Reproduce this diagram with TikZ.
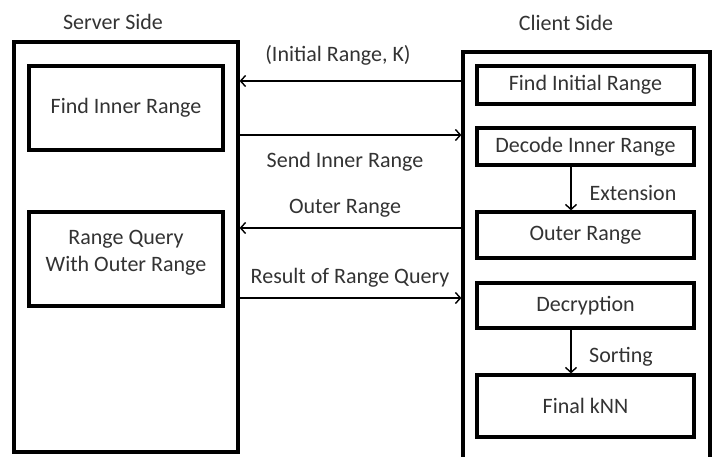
\documentclass[tikz,border=0pt]{standalone}
\usepackage{fontspec}
\setmainfont{Carlito}
\usetikzlibrary{arrows.meta}

\tikzset{
  sidebox/.style={draw, line width=3.2pt, inner sep=0pt},
  stepbox/.style={draw, line width=3.2pt, inner sep=0pt, align=center, text=black!80},
  flow/.style={line width=1.4pt, -{Straight Barb[length=5pt,width=11pt]}},
  lbl/.style={text=black!80, inner sep=0pt}
}

\begin{document}
\begin{tikzpicture}[x=1pt, y=-1pt, font=\fontsize{22}{27}\selectfont]
\clip (0,0) rectangle (714,457);
\fill[white] (0,0) rectangle (714,457);

% server side
\node[lbl] (srvtitle) at (113,22) {Server Side};
\node[sidebox, minimum width=224pt, minimum height=410pt] (server) at (126,247) {};
\node[stepbox, minimum width=194pt, minimum height=84pt] (fir) at (126,108) {Find Inner Range};
\node[stepbox, minimum width=194pt, minimum height=94pt, text depth=16pt] (rq) at (126,259) {Range Query\\With Outer Range};

% client side
\node[lbl] (clitle) at (566,23) {Client Side};
\node[sidebox, minimum width=247pt, minimum height=418pt] (client) at (586.5,261) {};
\node[stepbox, minimum width=217pt, minimum height=38pt] (fini) at (585.5,85) {Find Initial Range};
\node[stepbox, minimum width=217pt, minimum height=37pt] (dir) at (585.5,146.5) {Decode Inner Range};
\node[stepbox, minimum width=217pt, minimum height=46pt] (orng) at (585.5,235) {Outer Range};
\node[stepbox, minimum width=217pt, minimum height=45pt] (dec) at (585.5,305.5) {Decryption};
\node[stepbox, minimum width=217pt, minimum height=62pt] (knn) at (585.5,406) {Final kNN};

% messages
\coordinate (m1) at (0,81);
\coordinate (m2) at (0,135);
\coordinate (m3) at (0,228);
\coordinate (m4) at (0,298);
\draw[flow] (client.west |- m1) -- (server.east |- m1);
\draw[flow] (server.east |- m2) -- (client.west |- m2);
\draw[flow] (client.west |- m3) -- (server.east |- m3);
\draw[flow] (server.east |- m4) -- (client.west |- m4);
\node[lbl] (l1) at (338,55) {(Initial Range, K)};
\node[lbl] (l2) at (345,162) {Send Inner Range};
\node[lbl] (l3) at (345,208) {Outer Range};
\node[lbl] (l4) at (350,278) {Result of Range Query};

% client steps
\coordinate (vx) at (571,0);
\draw[flow] (dir.south -| vx) -- (orng.north -| vx);
\draw[flow] (dec.south -| vx) -- (knn.north -| vx);
\node[lbl] (ext) at (633,193) {Extension};
\node[lbl] (srt) at (621,357) {Sorting};
\end{tikzpicture}
\end{document}
